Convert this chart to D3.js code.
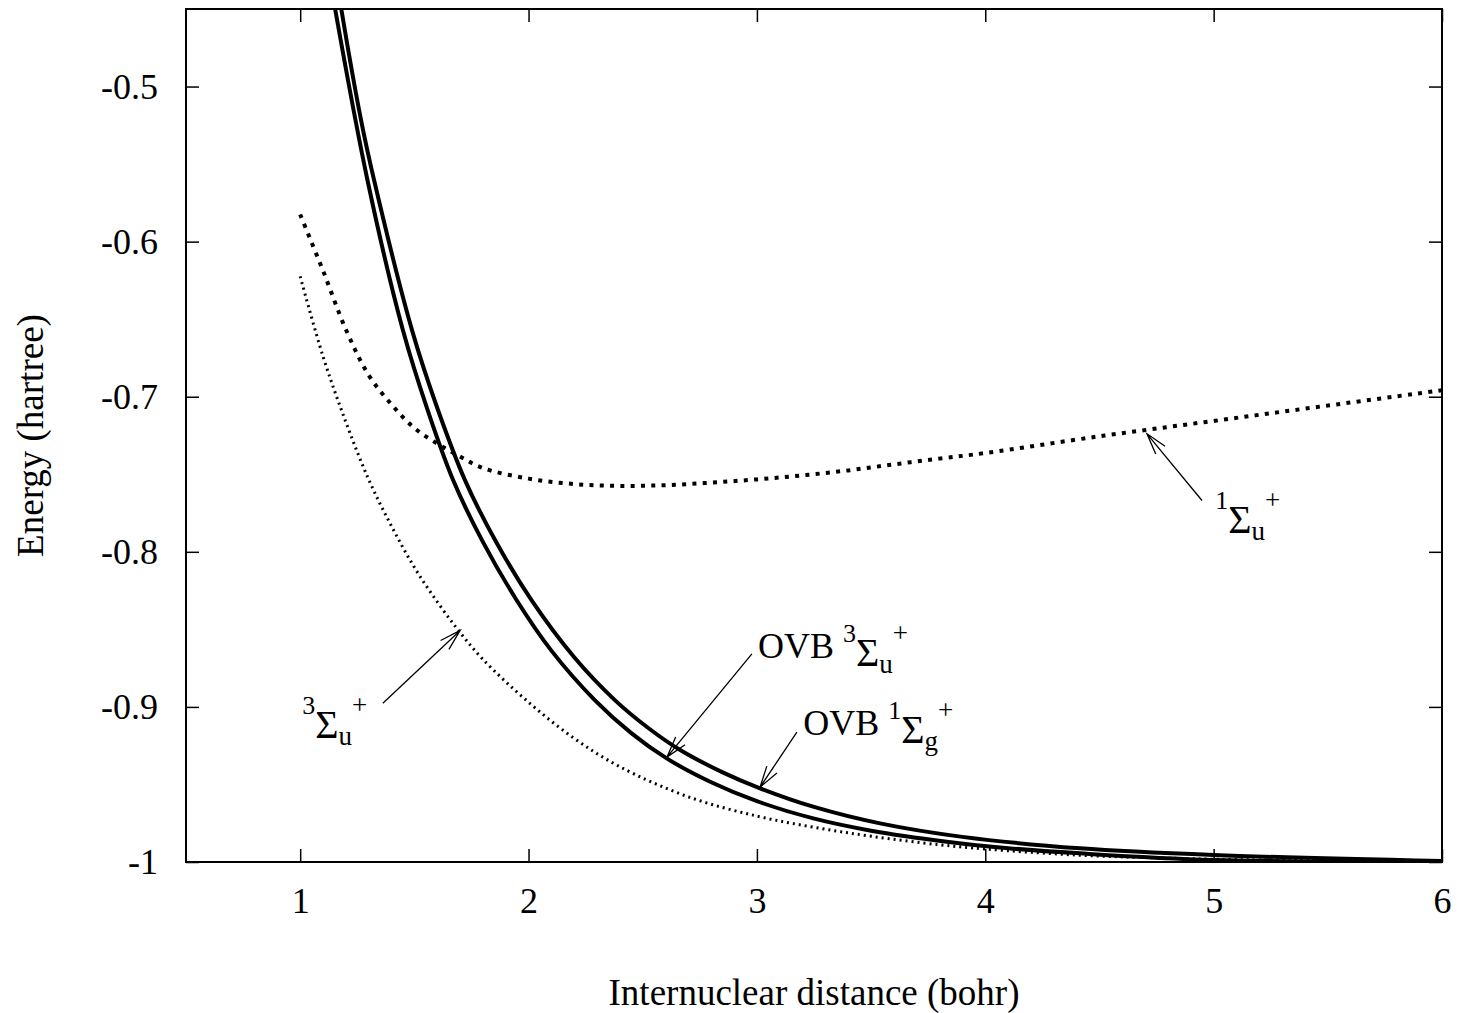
<!DOCTYPE html>
<html>
<head>
<meta charset="utf-8">
<script src="https://cdn.jsdelivr.net/npm/d3@7"></script>
<style>
  body { margin: 0; background: #fff; }
  text { font-family: "Liberation Serif", "Times New Roman", serif; fill: #000; }
</style>
</head>
<body>
<div class="wrapper"></div>
<script>
// tick values
var xTicks = [1, 2, 3, 4, 5, 6],
    yTicks = [-1, -0.9, -0.8, -0.7, -0.6, -0.5];

// 1Σu+ (ionic, dashed)
var rIonic = [1.0, 1.1, 1.2, 1.3, 1.4, 1.5, 1.6, 1.7, 1.8, 2.0, 2.2, 2.4, 2.6, 2.8, 3.0, 3.2, 3.4, 3.6, 3.8, 4.0, 4.5, 5.0, 5.5, 6.0],
    eIonic = [-0.5825, -0.6187, -0.6566, -0.6861, -0.7050, -0.7202, -0.7302, -0.7385, -0.7460, -0.7528, -0.7563, -0.7575, -0.7570, -0.7554, -0.7533, -0.7507, -0.7475, -0.7436, -0.7399, -0.7363, -0.7255, -0.7156, -0.7057, -0.6958];

// 3Σu+ (dotted)
var rTriplet = [1.0, 1.1, 1.2, 1.3, 1.4, 1.5, 1.6, 1.7, 1.8, 2.0, 2.2, 2.4, 2.7, 3.0, 3.25, 3.5, 3.8, 4.0, 4.4, 5.0, 6.0],
    eTriplet = [-0.6224, -0.6740, -0.7163, -0.7534, -0.7835, -0.8100, -0.8322, -0.8520, -0.8693, -0.8970, -0.9203, -0.9386, -0.9580, -0.9704, -0.9776, -0.9834, -0.9889, -0.9916, -0.9955, -0.9982, -0.9998];

// OVB 3Σu+ (solid, lower)
var rOvbU = [1.10, 1.153, 1.295, 1.45, 1.56, 1.67, 1.8, 1.948, 2.1, 2.29, 2.45, 2.605, 2.8, 3.0, 3.247, 3.5, 3.831, 4.1, 4.415, 5.0, 6.0],
    eOvbU = [-0.403, -0.450, -0.5606, -0.6572, -0.7095, -0.7539, -0.7936, -0.8312, -0.8637, -0.8956, -0.9169, -0.9332, -0.9486, -0.9608, -0.9719, -0.9798, -0.9869, -0.9911, -0.9944, -0.9987, -1.0000];

// OVB 1Σg+ (solid, upper)
var rOvbG = [1.13, 1.18, 1.267, 1.324, 1.49, 1.6, 1.722, 1.86, 2.013, 2.2, 2.378, 2.52, 2.664, 2.85, 3.014, 3.25, 3.539, 3.9, 4.415, 5.0, 6.0],
    eOvbG = [-0.4025, -0.450, -0.522, -0.5606, -0.6572, -0.7071, -0.7539, -0.7942, -0.8312, -0.8680, -0.8956, -0.9131, -0.9278, -0.9422, -0.9525, -0.9645, -0.9751, -0.9838, -0.9912, -0.9955, -0.9994];

// annotations: [tailR, tailE, tipR, tipE]
var arrows = [
  [1.362, -0.8976, 1.7006, -0.8507],
  [2.978, -0.8658, 2.606, -0.9324],
  [3.175, -0.9163, 3.014, -0.9517],
  [4.949, -0.7669, 4.708, -0.7239]
];
var labelPos = [[1.009, -0.9146], [3.005, -0.8682], [3.203, -0.9184], [5.007, -0.7824]],
    labelPre = ["", "OVB ", "OVB ", ""],
    labelSup = ["3", "3", "1", "1"],
    labelSub = ["u", "u", "g", "u"];

var w = 1472, h = 1013,
    margin = {top: 9, right: 30, bottom: 151, left: 186};

var svg = d3.select(".wrapper").append("svg")
    .attr("width", w)
    .attr("height", h)
    .style("background", "#fff");

var x = d3.scaleLinear().domain([0.5, 6]).range([margin.left, w - margin.right]);
var y = d3.scaleLinear().domain([-1, -0.45]).range([h - margin.bottom, margin.top]);

svg.append("clipPath").attr("id", "clip")
  .append("rect")
    .attr("x", x(0.5)).attr("y", y(-0.45))
    .attr("width", x(6) - x(0.5)).attr("height", y(-1) - y(-0.45));

// axes, ticks pointing inwards like gnuplot
var tick = 13;
function styleAxis(g) {
  g.select(".domain").remove();
  g.selectAll(".tick line").attr("stroke", "#000").attr("stroke-width", 1.5);
  g.selectAll("text").style("font-family", "Liberation Serif").style("font-size", "36px").attr("fill", "#000");
}

svg.append("g")
    .attr("transform", "translate(0," + y(-1) + ")")
    .call(d3.axisBottom(x).tickValues(xTicks).tickSize(-tick).tickFormat(function(d) { return String(d); }))
    .call(styleAxis)
  .selectAll("text").attr("y", 51).attr("dy", null);

svg.append("g")
    .attr("transform", "translate(0," + y(-0.45) + ")")
    .call(d3.axisTop(x).tickValues(xTicks).tickSize(-tick).tickFormat(""))
    .call(styleAxis);

svg.append("g")
    .attr("transform", "translate(" + x(0.5) + ",0)")
    .call(d3.axisLeft(y).tickValues(yTicks).tickSize(-tick).tickFormat(function(d) { return String(d); }))
    .call(styleAxis)
  .selectAll("text").attr("x", -28).attr("dy", "0.32em");

svg.append("g")
    .attr("transform", "translate(" + x(6) + ",0)")
    .call(d3.axisRight(y).tickValues(yTicks).tickSize(-tick).tickFormat(""))
    .call(styleAxis);

// curves
var line = d3.line()
    .x(function(d) { return x(d[0]); })
    .y(function(d) { return y(d[1]); })
    .curve(d3.curveCatmullRom.alpha(0.5));

var series = [
  {r: rTriplet, e: eTriplet, width: 3, dash: "2,4"},
  {r: rIonic, e: eIonic, width: 4, dash: "4,6.3"},
  {r: rOvbU, e: eOvbU, width: 4, dash: null},
  {r: rOvbG, e: eOvbG, width: 4, dash: null}
];

svg.append("g").attr("clip-path", "url(#clip)")
  .selectAll("path")
  .data(series)
  .enter().append("path")
    .attr("d", function(s) { return line(s.r.map(function(v, i) { return [v, s.e[i]]; })); })
    .attr("fill", "none")
    .attr("stroke", "#000")
    .attr("stroke-width", function(s) { return s.width; })
    .attr("stroke-dasharray", function(s) { return s.dash; });

// frame
svg.append("rect")
    .attr("x", x(0.5)).attr("y", y(-0.45))
    .attr("width", x(6) - x(0.5)).attr("height", y(-1) - y(-0.45))
    .attr("fill", "none").attr("stroke", "#000").attr("stroke-width", 2);

// arrows with open heads
var head = 22, spread = 16 * Math.PI / 180;
arrows.forEach(function(a) {
  var x0 = x(a[0]), y0 = y(a[1]), x1 = x(a[2]), y1 = y(a[3]);
  var ang = Math.atan2(y0 - y1, x0 - x1);
  var p = "M" + x0 + "," + y0 + "L" + x1 + "," + y1 +
          "M" + (x1 + head * Math.cos(ang + spread)) + "," + (y1 + head * Math.sin(ang + spread)) +
          "L" + x1 + "," + y1 +
          "L" + (x1 + head * Math.cos(ang - spread)) + "," + (y1 + head * Math.sin(ang - spread));
  svg.append("path").attr("d", p).attr("fill", "none").attr("stroke", "#000").attr("stroke-width", 1.3);
});

// term symbol labels
labelPos.forEach(function(p, i) {
  var t = svg.append("text")
      .attr("x", x(p[0])).attr("y", y(p[1]))
      .style("font-size", "36px");
  var parts = [
    {s: labelPre[i], size: 36, o: 0},
    {s: labelSup[i], size: 26, o: -16},
    {s: "\u03A3", size: 40, o: 8},
    {s: labelSub[i], size: 27, o: 15},
    {s: "+", size: 27, o: -16}
  ];
  var prev = 0;
  parts.forEach(function(q) {
    if (!q.s) return;
    t.append("tspan").attr("dy", q.o - prev).style("font-size", q.size + "px").text(q.s);
    prev = q.o;
  });
});

// axis titles
svg.append("text")
    .attr("x", (x(0.5) + x(6)) / 2).attr("y", 1005)
    .attr("text-anchor", "middle")
    .style("font-size", "37px")
    .text("Internuclear distance (bohr)");

svg.append("text")
    .attr("transform", "translate(43," + (y(-0.45) + y(-1)) / 2 + ") rotate(-90)")
    .attr("text-anchor", "middle")
    .style("font-size", "37px")
    .text("Energy (hartree)");
</script>
</body>
</html>
